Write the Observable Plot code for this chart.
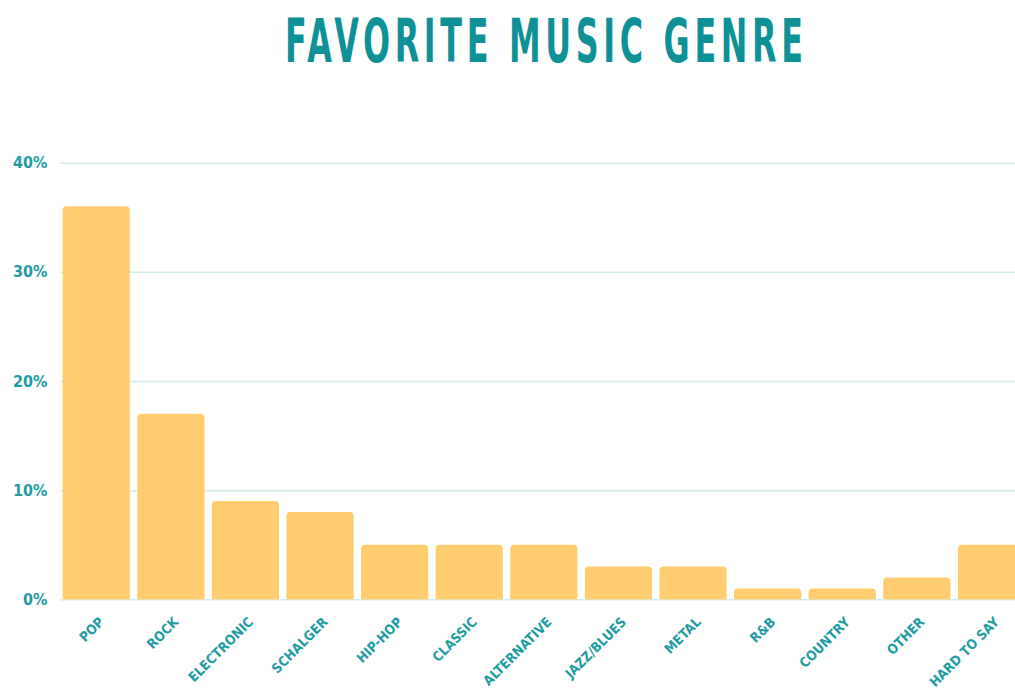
<!DOCTYPE html>
<html>
<head>
<meta charset="utf-8">
<script src="https://cdn.jsdelivr.net/npm/d3@7"></script>
<script src="https://cdn.jsdelivr.net/npm/@observablehq/plot@0.6"></script>
<style>
  html, body { margin: 0; padding: 0; background: #fff; overflow: hidden; }
  #wrap { position: relative; width: 1015px; height: 691px; }
  #title { position: absolute; left: 285px; top: 6px; margin: 0;
    font-family: 'DejaVu Sans Condensed', 'DejaVu Sans', sans-serif; font-weight: bold;
    font-size: 60px; line-height: 70px; color: #0E9196; white-space: nowrap;
    letter-spacing: 8px; transform-origin: 0 0; }
  #chart { position: absolute; left: 0; top: 100px; }
</style>
</head>
<body>
<div id="wrap">
  <div id="title"><span id="tt">FAVORITE MUSIC GENRE</span></div>
  <div id="chart"></div>
</div>
<script>
const genres = ["POP","ROCK","ELECTRONIC","SCHALGER","HIP-HOP","CLASSIC","ALTERNATIVE","JAZZ/BLUES","METAL","R&B","COUNTRY","OTHER","HARD TO SAY"];
const shares = [36, 17, 9, 8, 5, 5, 5, 3, 3, 1, 1, 2, 5];
const yTicks = [0, 10, 20, 30, 40];

const barColor = "#FFCD70";
const labelColor = "#1E9CA2";
const gridColor = "#D3ECEC";

const data = genres.map((g, i) => ({genre: g, value: shares[i]}));

const chart = Plot.plot({
  width: 1015,
  height: 591,
  marginTop: 62.7,
  marginBottom: 91.7,
  marginLeft: 60,
  marginRight: 0,
  style: {
    fontFamily: "'DejaVu Sans Condensed', 'DejaVu Sans', sans-serif",
    fontWeight: "bold",
    fontSize: "16px",
    color: labelColor,
    background: "white",
    overflow: "hidden",
    maxWidth: "none"
  },
  x: {domain: genres, range: [55.2, 1032.5], padding: 0.1, round: false, axis: null},
  y: {domain: [0, 40], ticks: yTicks, tickFormat: d => d + "%", tickSize: 0, tickPadding: 13, label: null},
  marks: [
    Plot.ruleY(yTicks, {stroke: gridColor, strokeWidth: 1.5}),
    Plot.barY(data, {x: "genre", y: "value", fill: barColor, rx: 4}),
    Plot.barY(data, {x: "genre", y: d => Math.min(d.value, 0.5), fill: barColor}),
    Plot.text(data, {x: "genre", y: 0, text: "genre", rotate: -45, textAnchor: "end",
      dx: 5, dy: 20, fill: labelColor, fontSize: 13.5, fontWeight: "bold"})
  ]
});
document.getElementById("chart").appendChild(chart);

const t = document.getElementById("title");
const tt = document.getElementById("tt");
const w = tt.getBoundingClientRect().width - 8;
t.style.transform = `scaleX(${518 / w})`;
</script>
</body>
</html>
